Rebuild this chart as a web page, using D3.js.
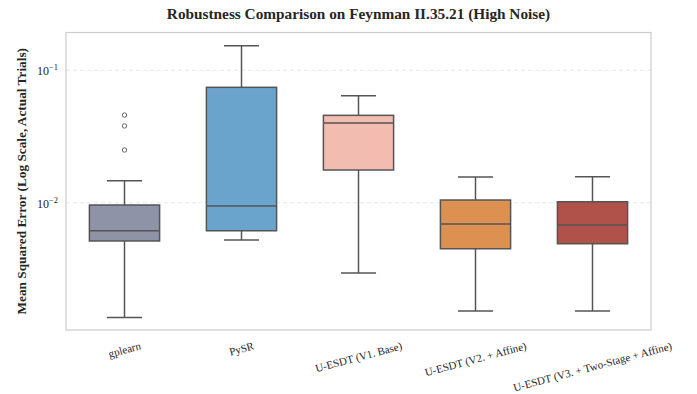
<!DOCTYPE html>
<html>
<head>
<meta charset="utf-8">
<script src="https://cdn.jsdelivr.net/npm/d3@7"></script>
<style>
  body { margin: 0; background: #fff; }
  text { font-family: "Liberation Serif", "Times New Roman", serif; fill: #262626; }
</style>
</head>
<body>
<svg id="chart" width="697" height="394"></svg>
<script>
// Box stats (log scale)
const categories = ["gplearn", "PySR", "U-ESDT (V1. Base)", "U-ESDT (V2. + Affine)", "U-ESDT (V3. + Two-Stage + Affine)"];
const whiskerLow  = [0.00136, 0.00523, 0.00294, 0.00152, 0.00152];
const q1          = [0.00514, 0.00614, 0.01766, 0.00449, 0.00490];
const median      = [0.00614, 0.00944, 0.0400, 0.00690, 0.00679];
const q3          = [0.00961, 0.0744, 0.0457, 0.01048, 0.01017];
const whiskerHigh = [0.01467, 0.1534, 0.0643, 0.01563, 0.01571];
const outliers    = [[0.0459, 0.0380, 0.0250], [], [], [], []];
const colors      = ["#8e93a8", "#6aa3cc", "#f3bcb0", "#dc9150", "#b0524a"];
const yTicks      = [0.1, 0.01];
const yTickExp    = ["\u22121", "\u22122"];

const svg = d3.select("#chart");
const plotL = 66, plotR = 651, plotT = 32.5, plotB = 330;

const x = d3.scaleBand().domain(categories).range([plotL, plotR]).padding(0);
const y = d3.scaleLog().domain([0.001093, 0.193]).range([plotB, plotT]);
const boxW = x.bandwidth() * 0.6;
const capW = boxW / 2;

// title
svg.append("text")
  .attr("x", (plotL + plotR) / 2)
  .attr("y", 19)
  .attr("text-anchor", "middle")
  .style("font-size", "15.3px")
  .style("font-weight", "bold")
  .text("Robustness Comparison on Feynman II.35.21 (High Noise)");

// grid lines
svg.selectAll(".grid")
  .data(yTicks)
  .enter().append("line")
    .attr("x1", plotL).attr("x2", plotR)
    .attr("y1", d => y(d)).attr("y2", d => y(d))
    .attr("stroke", "#e2e2e2")
    .attr("stroke-width", 0.8)
    .attr("stroke-dasharray", "4,3");

// frame
svg.append("rect")
  .attr("x", plotL).attr("y", plotT)
  .attr("width", plotR - plotL).attr("height", plotB - plotT)
  .attr("fill", "none")
  .attr("stroke", "#cccccc")
  .attr("stroke-width", 1.2);

// y tick labels
const tl = svg.selectAll(".ytick")
  .data(yTicks)
  .enter().append("text")
    .attr("x", 37)
    .attr("y", d => y(d) + 5)
    .style("font-size", "12px");
tl.append("tspan").text("10");
tl.append("tspan")
  .attr("dy", -5)
  .style("font-size", "8.5px")
  .text((d, i) => yTickExp[i]);

// y label
svg.append("text")
  .attr("transform", `translate(26,${(plotT + plotB) / 2}) rotate(-90)`)
  .attr("text-anchor", "middle")
  .style("font-size", "13.3px")
  .style("font-weight", "bold")
  .text("Mean Squared Error (Log Scale, Actual Trials)");

const stroke = "#555555";
const g = svg.selectAll(".box")
  .data(categories)
  .enter().append("g")
    .attr("class", "box");

// whiskers
g.append("line")
  .attr("x1", d => x(d) + x.bandwidth() / 2).attr("x2", d => x(d) + x.bandwidth() / 2)
  .attr("y1", (d, i) => y(whiskerLow[i])).attr("y2", (d, i) => y(q1[i]))
  .attr("stroke", stroke).attr("stroke-width", 1.5);
g.append("line")
  .attr("x1", d => x(d) + x.bandwidth() / 2).attr("x2", d => x(d) + x.bandwidth() / 2)
  .attr("y1", (d, i) => y(q3[i])).attr("y2", (d, i) => y(whiskerHigh[i]))
  .attr("stroke", stroke).attr("stroke-width", 1.5);
// caps
[whiskerLow, whiskerHigh].forEach(arr => {
  g.append("line")
    .attr("x1", d => x(d) + x.bandwidth() / 2 - capW / 2)
    .attr("x2", d => x(d) + x.bandwidth() / 2 + capW / 2)
    .attr("y1", (d, i) => y(arr[i])).attr("y2", (d, i) => y(arr[i]))
    .attr("stroke", stroke).attr("stroke-width", 1.5);
});

// boxes
g.append("rect")
  .attr("x", d => x(d) + (x.bandwidth() - boxW) / 2)
  .attr("width", boxW)
  .attr("y", (d, i) => y(q3[i]))
  .attr("height", (d, i) => y(q1[i]) - y(q3[i]))
  .attr("fill", (d, i) => colors[i])
  .attr("stroke", stroke).attr("stroke-width", 1.5);

// medians
g.append("line")
  .attr("x1", d => x(d) + (x.bandwidth() - boxW) / 2)
  .attr("x2", d => x(d) + (x.bandwidth() + boxW) / 2)
  .attr("y1", (d, i) => y(median[i])).attr("y2", (d, i) => y(median[i]))
  .attr("stroke", stroke).attr("stroke-width", 1.5);

// outliers
g.each(function(d, i) {
  d3.select(this).selectAll("circle")
    .data(outliers[i])
    .enter().append("circle")
      .attr("cx", x(d) + x.bandwidth() / 2)
      .attr("cy", v => y(v))
      .attr("r", 2.2)
      .attr("fill", "#fff")
      .attr("stroke", "#666")
      .attr("stroke-width", 1);
});

// x tick labels, rotated, centered on the tick
const angle = 15 * Math.PI / 180;
svg.selectAll(".xlab")
  .data(categories)
  .enter().append("text")
    .attr("text-anchor", "middle")
    .attr("dominant-baseline", "central")
    .style("font-size", "11px")
    .text(d => d)
    .attr("transform", function(d) {
      const L = this.getComputedTextLength();
      const cy = 340 + (L * Math.sin(angle) + 11 * Math.cos(angle)) / 2;
      return `translate(${x(d) + x.bandwidth() / 2},${cy}) rotate(-15)`;
    });
</script>
</body>
</html>
